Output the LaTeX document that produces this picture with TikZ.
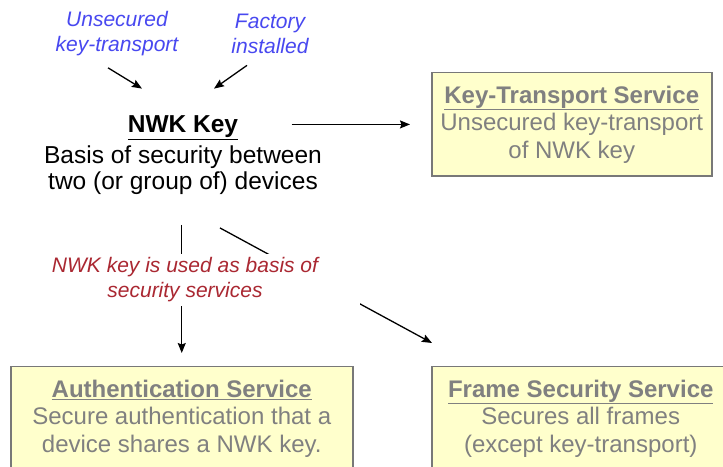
\documentclass[tikz,border=0pt]{standalone}
\usepackage{fontspec}
\setmainfont{Liberation Sans}
\usetikzlibrary{positioning,arrows.meta}

\definecolor{keyblue}{RGB}{72,72,240}
\definecolor{usered}{RGB}{170,40,50}
\definecolor{boxfill}{RGB}{255,255,204}
\definecolor{boxline}{RGB}{120,120,120}
\definecolor{boxtext}{RGB}{128,128,128}

\tikzset{
  svcbox/.style={draw=boxline, line width=1.5pt, fill=boxfill, text=boxtext,
    align=center, font=\fontsize{24}{27.5}\selectfont, inner ysep=13pt,
    anchor=north west},
  origin/.style={text=keyblue, align=center,
    font=\fontsize{21}{25}\selectfont\itshape},
  arr/.style={line width=1.3pt, -{Stealth[length=10pt,width=8pt,inset=1.5pt]}},
}

\begin{document}
\begin{tikzpicture}[x=1pt,y=1pt]
    \clip (0,0) rectangle (723,466);
    \fill[white] (0,0) rectangle (723,466);
    \node[origin] (uk) at (117,432) {Unsecured\\key-transport};
    \node[origin] (fi) at (270,432) {Factory\\installed};
    \node[anchor=base, font=\fontsize{24.5}{26}\selectfont\bfseries] (nwk) at (183,333) {\underline{NWK Key}};
    \node[align=center, font=\fontsize{24.5}{26}\selectfont] (basis) at (183,296) {Basis of security between\\two (or group of) devices};
    \node[svcbox, minimum width=280] (kt) at (431,394) {\underline{\textbf{Key-Transport Service}}\\Unsecured key-transport\\of NWK key};
    \node[svcbox, minimum width=342] (auth) at (10,100) {\underline{\textbf{Authentication Service}}\\Secure authentication that a\\device shares a NWK key.\\\strut};
    \node[svcbox, minimum width=298] (fs) at (431,100) {\underline{\textbf{Frame Security Service}}\\Secures all frames\\(except key-transport)\\\strut};
    \draw[arr] ([xshift=-9pt,yshift=-8pt]uk.south) -- ([xshift=-41pt,yshift=24pt]nwk.north);
    \draw[arr] ([xshift=-23pt,yshift=-8pt]fi.south) -- ([xshift=31pt,yshift=24pt]nwk.north);
    \draw[arr, shorten <=50pt, shorten >=21pt] (nwk.east |- kt.west) -- (kt.west);
    \draw[arr, shorten <=27pt, shorten >=13pt] (basis.south -| auth.north) -- (auth.north);
    \draw[arr] ([xshift=37pt,yshift=-30pt]basis.south) -- ([xshift=1pt,yshift=23pt]fs.north west);
    % label sits on top of the two lines and breaks them
    \node[fill=white, inner xsep=42pt, inner ysep=4pt, text=usered, align=center,
      font=\fontsize{21}{25}\selectfont\itshape] (use) at (185,186) {NWK key is used as basis of\\security services};
\end{tikzpicture}
\end{document}
